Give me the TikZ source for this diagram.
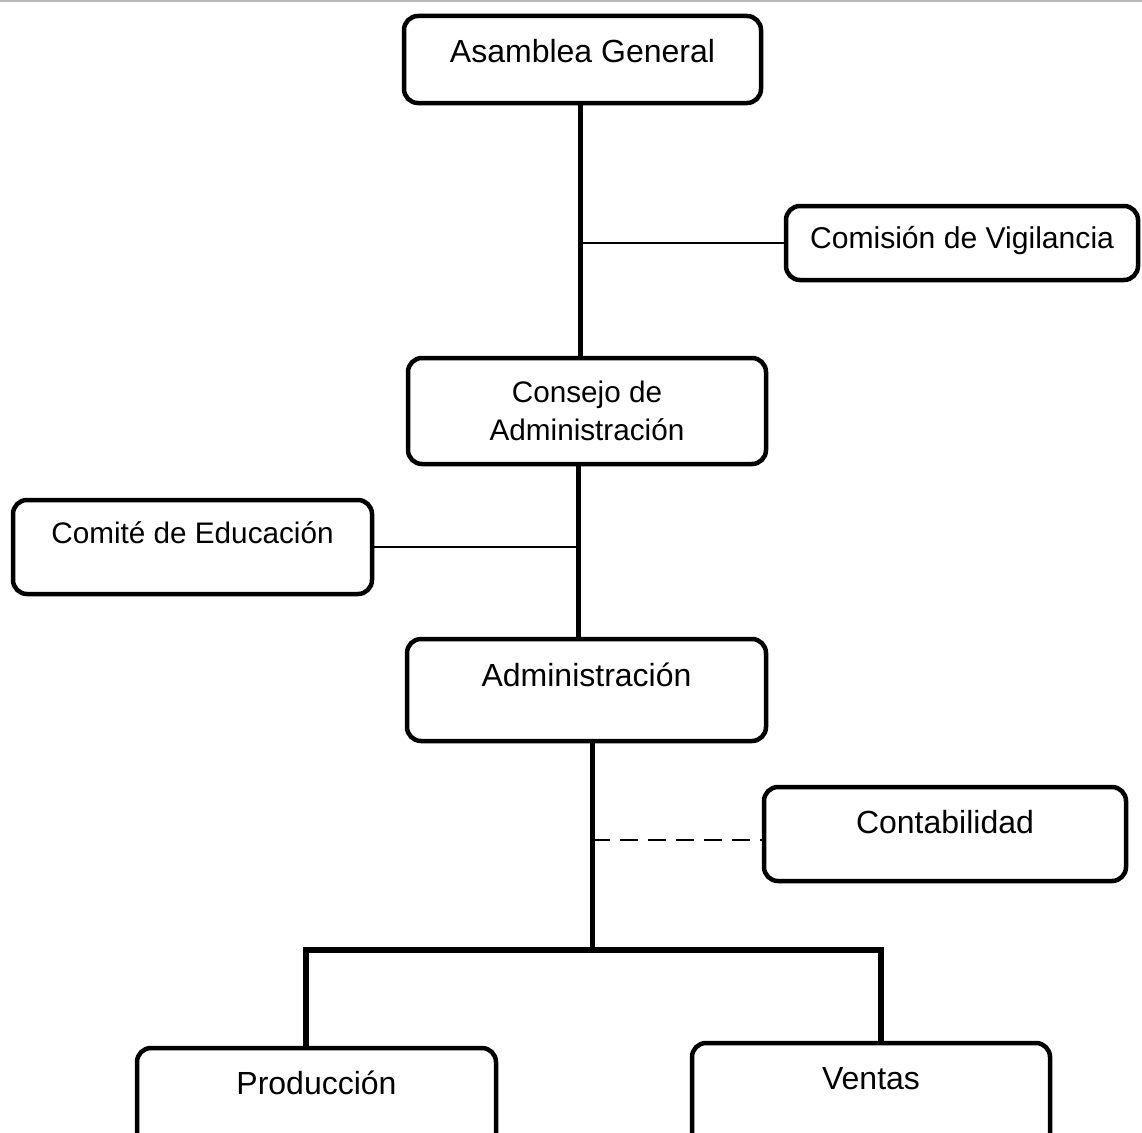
\documentclass[tikz,border=0pt]{standalone}
\usepackage{fontspec}
\setmainfont{Liberation Sans}
\begin{document}
\begin{tikzpicture}[x=1pt,y=-1pt,
  box/.style={draw, line width=4.5pt, rounded corners=14pt, inner sep=0pt,
              anchor=base, font=\fontsize{32}{38}\selectfont},
  smalltext/.style={font=\fontsize{29.7}{38}\selectfont},
  trunk/.style={line width=5pt},
  branch/.style={line width=2.2pt},
  dotted link/.style={line width=2pt, dash pattern=on 18pt off 10pt}]
\useasboundingbox (0,0) rectangle (1142,1132);

% faint edge of the scanned sheet
\draw[gray!55, line width=2pt] (0,1) -- (1142,1);

% boxes (base anchor = text baseline)
\node[box, minimum width=357pt, text height=47pt, text depth=40pt] (ag) at (582.5,63) {Asamblea General};
\node[box, font=\fontsize{30.1}{38}\selectfont, minimum width=352pt, text height=42pt, text depth=32pt] (cv) at (962,248) {Comisión de Vigilancia};
\node[box, smalltext, minimum width=358pt, text height=44pt, text depth=62pt] (cda) at (587,402)
  {\begin{tabular}[t]{@{}c@{}}Consejo de\\Administración\end{tabular}};
\node[box, smalltext, minimum width=359pt, text height=43pt, text depth=51pt] (ce) at (192.5,543) {Comité de Educación};
\node[box, minimum width=359pt, text height=47pt, text depth=55pt] (adm) at (586.5,686) {Administración};
\node[box, minimum width=362pt, text height=46pt, text depth=48pt] (ct) at (945,833) {Contabilidad};
\node[box, minimum width=359pt, text height=46pt, text depth=60pt] (pr) at (316.5,1094) {Producción};
\node[box, minimum width=358pt, text height=46pt, text depth=65pt] (ve) at (871,1089) {Ventas};

% connector lines
\coordinate (s1) at (580,0);
\coordinate (s2) at (578,0);
\coordinate (s3) at (592,0);
\coordinate (d1) at (306,0);
\coordinate (d2) at (881,0);
\coordinate (bus) at (0,950);

\draw[trunk] (ag.south -| s1) -- (cda.north -| s1);
\draw[branch] (cv.west) -- (cv.west -| s1);
\draw[trunk] (cda.south -| s2) -- (adm.north -| s2);
\draw[branch] (ce.east) -- (ce.east -| s2);
\draw[trunk] (adm.south -| s3) -- (bus -| s3);
\draw[dotted link] ([yshift=-6pt]ct.west -| s3) -- ([yshift=-6pt]ct.west);
\draw[trunk, line width=5.5pt, line join=miter] (pr.north -| d1) -- (bus -| d1) -- (bus -| d2) -- (ve.north -| d2);
\end{tikzpicture}
\end{document}
